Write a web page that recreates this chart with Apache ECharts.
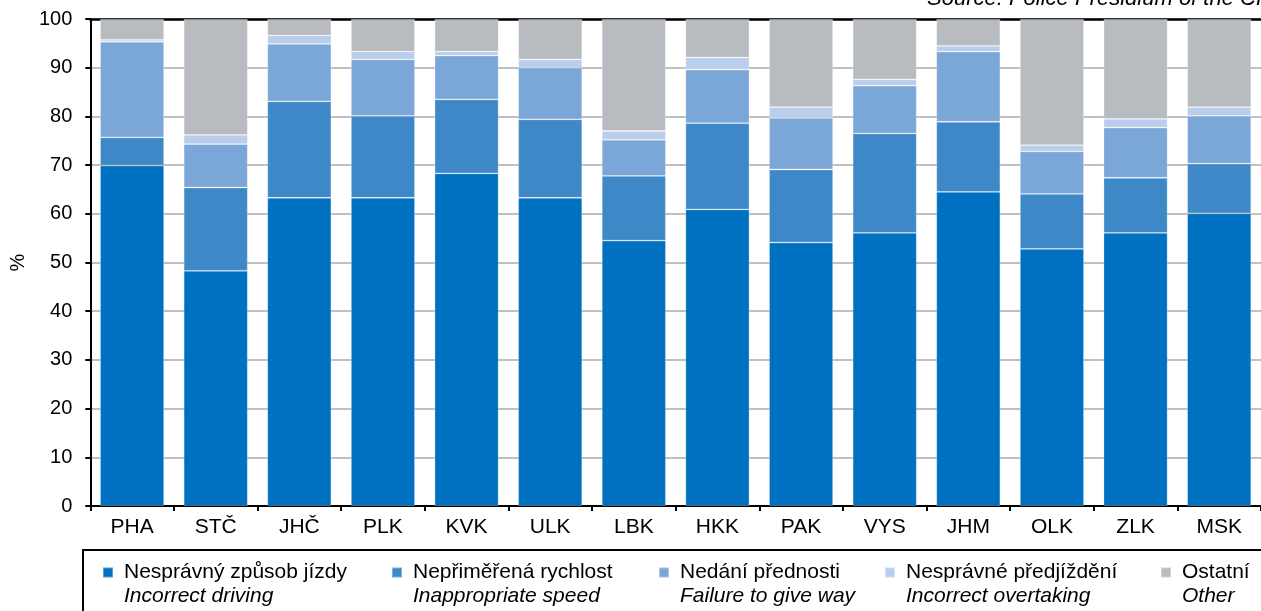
<!DOCTYPE html>
<html>
<head>
<meta charset="utf-8">
<script src="https://cdn.jsdelivr.net/npm/echarts@6/dist/echarts.min.js"></script>
<style>
html,body{margin:0;padding:0;background:#fff;}
#chart{width:1261px;height:611px;}
</style>
</head>
<body>
<div id="chart"></div>
<script>
const categories = ['PHA','STČ','JHČ','PLK','KVK','ULK','LBK','HKK','PAK','VYS','JHM','OLK','ZLK','MSK'];
const driving    = [69.9,48.3,63.3,63.3,68.3,63.3,54.5,60.9,54.1,56.1,64.5,52.8,56.1,60.1];
const speed      = [5.8,17.1,19.8,16.8,15.2,16.1,13.3,17.7,15.0,20.4,14.4,11.3,11.3,10.2];
const failure    = [19.6,8.9,11.8,11.6,9.0,10.6,7.4,11.0,10.6,9.8,14.4,8.7,10.3,9.8];
const overtaking = [0.4,1.9,1.7,1.6,0.8,1.7,1.8,2.5,2.2,1.3,1.2,1.3,1.8,1.8];
const other      = [4.3,23.8,3.4,6.7,6.7,8.3,23.0,7.9,18.1,12.4,5.5,25.9,20.5,18.1];
const namesCz = ['Nesprávný způsob jízdy','Nepřiměřená rychlost','Nedání přednosti','Nesprávné předjíždění','Ostatní'];
const namesEn = ['Incorrect driving','Inappropriate speed','Failure to give way','Incorrect overtaking','Other'];
const yTicks = [0,10,20,30,40,50,60,70,80,90,100];
const sourceText = 'Source: Police Presidium of the CR';

const FONT = '"Liberation Sans", Arial, sans-serif';
const FS = 21;
const colors = ['#0070C0','#3F88C8','#7BA6D8','#BACDEC','#B8BBC0'];
const seriesData = [driving, speed, failure, overtaking, other];
const legendLeft = [102, 391, 658, 884, 1160];

const chart = echarts.init(document.getElementById('chart'), null, {renderer:'canvas'});

const series = seriesData.map((d, i) => ({
  name: namesCz[i],
  type: 'bar',
  stack: 'total',
  data: d,
  barWidth: 64,
  itemStyle: {color: colors[i], borderColor: 'rgba(255,255,255,0.35)', borderWidth: 0.8},
  emphasis: {disabled: true}
}));

const legends = namesCz.map((n, i) => ({
  data: [{name: n, icon: 'rect'}],
  left: legendLeft[i],
  top: 538,
  padding: 0,
  itemWidth: 10,
  itemHeight: 10,
  selectedMode: false,
  formatter: () => '{c| }\n{a|' + namesCz[i] + '}\n{b|' + namesEn[i] + '}',
  textStyle: {
    color: '#000',
    fontFamily: FONT,
    fontSize: FS,
    rich: {
      a: {fontFamily: FONT, fontSize: FS, lineHeight: 24, color: '#000', padding: [0,0,0,6]},
      b: {fontFamily: FONT, fontSize: FS, lineHeight: 24, color: '#000', fontStyle: 'italic', padding: [0,0,0,6]},
      c: {fontFamily: FONT, fontSize: FS, lineHeight: 24}
    }
  }
}));

const option = {
  animation: false,
  backgroundColor: '#fff',
  grid: {left: 87, right: -1, top: 19, bottom: 105, containLabel: false},
  legend: legends,
  xAxis: [{
    type: 'category',
    data: categories,
    axisLine: {lineStyle: {color: '#000', width: 2}},
    axisTick: {show: true, length: 5, lineStyle: {color: '#000', width: 2}},
    axisLabel: {color: '#000', fontFamily: FONT, fontSize: FS, margin: 11}
  }, {
    type: 'category',
    position: 'top',
    data: categories,
    axisLine: {show: true, lineStyle: {color: '#000', width: 2.5}},
    axisTick: {show: false},
    axisLabel: {show: false}
  }],
  yAxis: {
    type: 'value',
    min: 0, max: 100, interval: 10,
    name: '%',
    nameLocation: 'middle',
    nameRotate: 90,
    nameGap: 55,
    nameTextStyle: {color: '#000', fontFamily: FONT, fontSize: 20},
    axisLine: {show: true, lineStyle: {color: '#000', width: 2}},
    axisTick: {show: true, length: 5, lineStyle: {color: '#000', width: 2}},
    axisLabel: {color: '#000', fontFamily: FONT, fontSize: 20, margin: 18,
      formatter: v => yTicks.includes(v) ? String(v) : ''},
    splitLine: {show: true, lineStyle: {color: '#C0C0C0', width: 2}}
  },
  series: series,
  graphic: [
    {type: 'rect', shape: {x: 83, y: 550, width: 1200, height: 100},
     style: {fill: 'none', stroke: '#000', lineWidth: 2}, silent: true},
    {type: 'text', style: {text: sourceText, x: 927, y: -1, font: 'italic 22px ' + FONT,
      fill: '#000', textAlign: 'left', textVerticalAlign: 'middle'}, silent: true}
  ]
};
chart.setOption(option);
</script>
</body>
</html>
